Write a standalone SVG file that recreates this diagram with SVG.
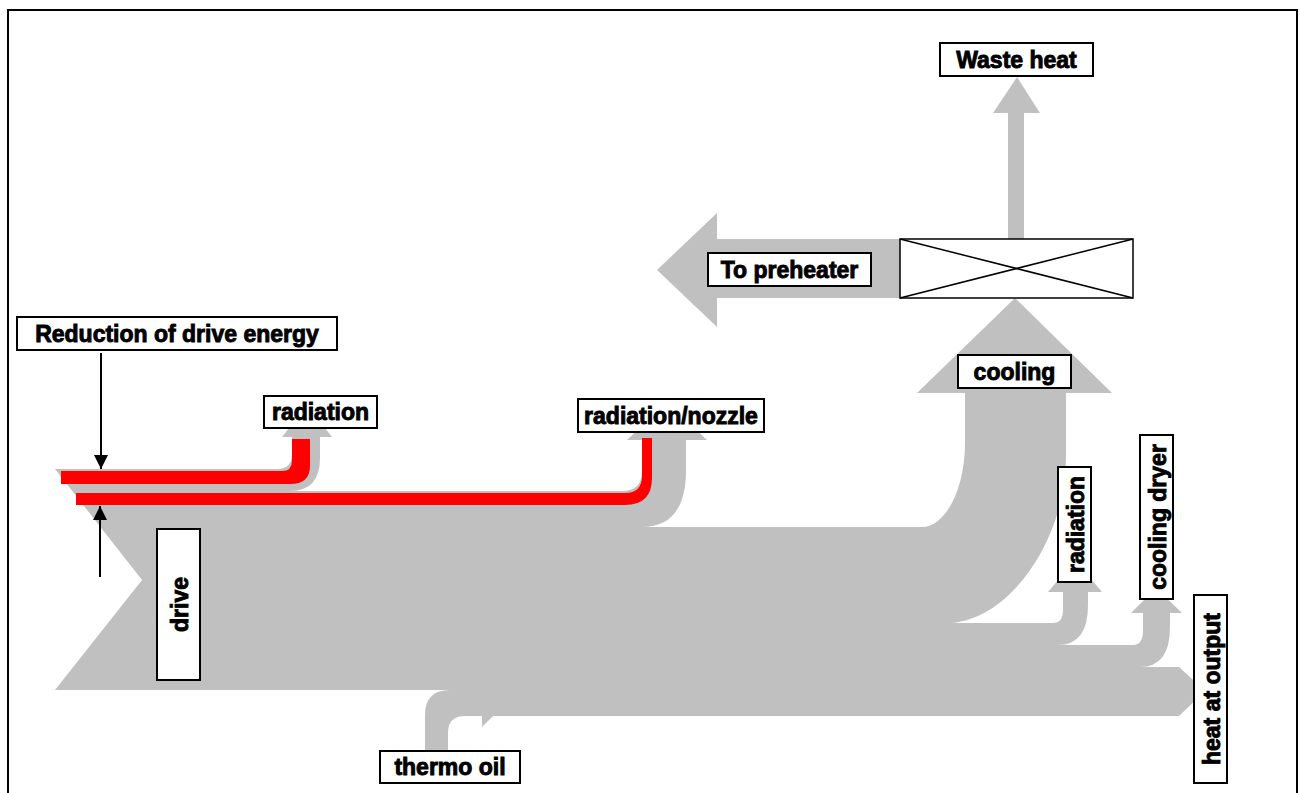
<svg xmlns="http://www.w3.org/2000/svg" width="1300" height="793" viewBox="0 0 1300 793">
<defs>
<style>
.flow{fill:#c0c0c0;stroke:none}
.red{fill:#ff0000;stroke:none}
.box{fill:#ffffff;stroke:#000000;stroke-width:2}
.lbl{font-family:"Liberation Sans",Arial,sans-serif;font-weight:bold;font-size:23px;fill:#000000;text-anchor:middle;stroke:#000;stroke-width:0.9}
.conn{stroke:#000000;stroke-width:2;fill:none}
</style>
<marker id="ah" markerUnits="userSpaceOnUse" markerWidth="16" markerHeight="14" refX="14" refY="7" orient="auto">
<path d="M0,0 L14,7 L0,14 Z" fill="#000000"/>
</marker>
</defs>
<rect x="0" y="0" width="1300" height="793" fill="#ffffff"/>
<rect x="8" y="10" width="1289" height="800" fill="none" stroke="#000000" stroke-width="2"/>

<g id="flows">
<path class="flow" d="M55,469 H277 Q292,469 292,454 V437 H282 L307,405 L332,437 H320 V458 Q320,491 290,491 H622 Q642,491 642,471 V440 H627 L667,402 L707,440 H686 V470 Q686,527 642,527 H922 C945,527 965,490 965,443 V393 H917 L1015,298 L1112,393 H1066 V455 C1066,545 1005,623 947,623 H1053 Q1063,623 1063,610 V592 H1048 L1075,560 L1102,592 H1088 V605 Q1088,645 1058,645 H1133 Q1143,645 1143,630 V613 H1131 L1156,588 L1182,613 H1170 V627 Q1170,667 1140,667 H1179 L1205,691 L1179,716 H493 L482,727 V716 H465 Q448,716 448,733 V750 H425 V715 Q425,690 450,690 H55 L142,580 Z"/>
<path class="flow" d="M1008,239 V113 H993 L1017,77 L1040,113 H1024 V239 Z"/>
<path class="flow" d="M900,239 H717 V213 L657,270 L717,327 V298 H900 Z"/>
</g>

<g id="reduction">
<path class="red" d="M61,471 H282 Q292,471 292,461 V439 H310 V466 Q310,484 290,484 H61 Z"/>
<path class="red" d="M76,493 H625 Q642,493 642,476 V438 H652 V478 Q652,505 625,505 H76 Z"/>
</g>

<g id="connectors">
<line class="conn" x1="101" y1="353" x2="101" y2="469" marker-end="url(#ah)"/>
<line class="conn" x1="100" y1="577" x2="100" y2="506" marker-end="url(#ah)"/>
</g>

<g id="heat-exchanger">
<rect x="900" y="239" width="233" height="59" fill="#ffffff" stroke="#000000" stroke-width="1.5"/>
<line x1="900" y1="239" x2="1133" y2="298" stroke="#000000" stroke-width="1.5"/>
<line x1="900" y1="298" x2="1133" y2="239" stroke="#000000" stroke-width="1.5"/>
</g>

<g id="waste-heat">
<rect class="box" x="940" y="43" width="153" height="33"/>
<text class="lbl" x="1016.5" y="67.5">Waste heat</text>
</g>
<g id="to-preheater">
<rect class="box" x="708" y="253" width="163" height="33"/>
<text class="lbl" x="789.5" y="277.5">To preheater</text>
</g>
<g id="reduction-label">
<rect class="box" x="17" y="317" width="320" height="33"/>
<text class="lbl" x="177" y="341.5">Reduction of drive energy</text>
</g>
<g id="radiation-top">
<rect class="box" x="264" y="396" width="113" height="32"/>
<text class="lbl" x="320.5" y="420">radiation</text>
</g>
<g id="radiation-nozzle">
<rect class="box" x="578" y="399" width="186" height="33"/>
<text class="lbl" x="671" y="423.5">radiation/nozzle</text>
</g>
<g id="cooling">
<rect class="box" x="958" y="355" width="113" height="33"/>
<text class="lbl" x="1014.5" y="379.5">cooling</text>
</g>
<g id="thermo-oil">
<rect class="box" x="380" y="751" width="140" height="32"/>
<text class="lbl" x="450" y="775">thermo oil</text>
</g>
<g id="drive">
<rect class="box" x="157" y="529" width="43" height="151"/>
<text class="lbl" transform="translate(178.5,604.5) rotate(-90)" x="0" y="9">drive</text>
</g>
<g id="radiation-right">
<rect class="box" x="1058" y="467" width="33" height="115"/>
<text class="lbl" transform="translate(1074.5,524.5) rotate(-90)" x="0" y="9">radiation</text>
</g>
<g id="cooling-dryer">
<rect class="box" x="1140" y="435" width="33" height="164"/>
<text class="lbl" transform="translate(1156.5,517) rotate(-90)" x="0" y="9">cooling dryer</text>
</g>
<g id="heat-at-output">
<rect class="box" x="1194" y="595" width="33" height="188"/>
<text class="lbl" transform="translate(1210.5,689) rotate(-90)" x="0" y="9">heat at output</text>
</g>
</svg>
